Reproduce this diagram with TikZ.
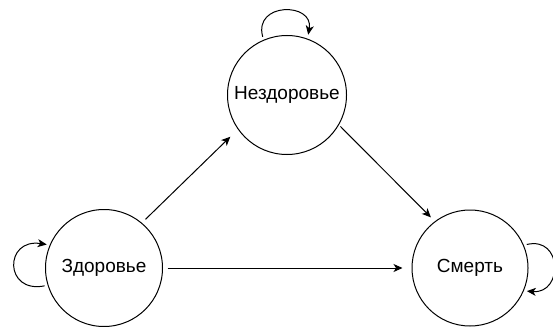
\documentclass[tikz,border=0pt]{standalone}
\usepackage{fontspec}
\setmainfont{Liberation Sans}
\usetikzlibrary{arrows.meta}
\begin{document}
\begin{tikzpicture}[x=1pt,y=-1pt,
  state/.style={circle,draw,line width=1pt,inner sep=0pt,minimum size=117pt,font=\fontsize{19}{21}\selectfont},
  conn/.style={line width=1pt,-{Stealth[length=9pt,width=8pt,inset=2.5pt]}}]
\useasboundingbox (0,0) rectangle (553,326);
\node[state] (z) at (104,268) {Здоровье};
\node[state,minimum size=119pt] (n) at (287,95) {Нездоровье};
\node[state,minimum size=116pt] (s) at (470,268) {Смерть};
\draw[conn,shorten <=5pt,shorten >=10.5pt] (z.50) -- (n.215);
\draw[conn,shorten <=4.5pt,shorten >=9pt] (z.east) -- (s.west);
\draw[conn,shorten <=2pt,shorten >=5.5pt] (n.-30) -- (s.127);
\draw[conn,shorten <=3pt,shorten >=3pt] (z.197) .. controls (4,294) and (4,238) .. (z.157);
\draw[conn,shorten <=3pt,shorten >=4pt] (n.113) .. controls (253,2) and (314,2) .. (n.70);
\draw[conn,shorten <=3pt,shorten >=3pt] (s.23) .. controls (563,236) and (563,294) .. (s.-23);
\end{tikzpicture}
\end{document}
